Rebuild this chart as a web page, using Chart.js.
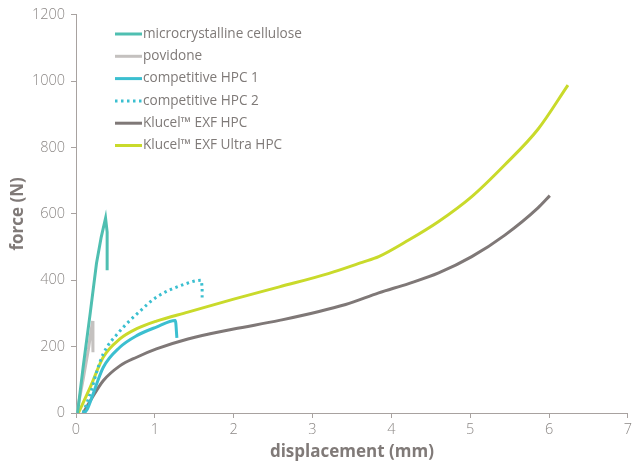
<!DOCTYPE html>
<html>
<head>
<meta charset="utf-8">
<script src="https://cdn.jsdelivr.net/npm/chart.js@4.4.1/dist/chart.umd.min.js"></script>
<style>
    html, body { margin: 0; padding: 0; background: #fff; }
    #wrap { width: 635px; height: 468px; }
</style>
</head>
<body>
<div id="wrap"><canvas id="forceChart" width="635" height="468"></canvas></div>
<script>
const seriesNames = [
    'microcrystalline cellulose',
    'povidone',
    'competitive HPC 1',
    'competitive HPC 2',
    'Klucel\u2122 EXF HPC',
    'Klucel\u2122 EXF Ultra HPC'
];

const mccX = [0.02, 0.09, 0.18, 0.26, 0.32, 0.375, 0.395, 0.395];
const mccY = [0, 137, 300, 451, 530, 587, 545, 430];

const povidoneX = [0.01, 0.09, 0.156, 0.21, 0.215, 0.215];
const povidoneY = [0, 100, 190, 277, 240, 183];

const hpc1X = [0.11, 0.15, 0.2, 0.345, 0.556, 0.77, 1.02, 1.26, 1.28];
const hpc1Y = [0, 15, 46, 137, 198, 233, 259, 279, 226];

const hpc2X = [0.09, 0.2, 0.26, 0.345, 0.535, 0.83, 1.02, 1.4, 1.59, 1.6, 1.6];
const hpc2Y = [0, 72, 122, 178, 241, 311, 349, 390, 400, 380, 346];

const exfX = [0.09, 0.18, 0.345, 0.556, 0.77, 1.02, 1.42, 2.0, 2.58, 3.42, 3.84, 4.22, 4.6, 5.02, 5.44, 5.86, 6.01];
const exfY = [0, 36, 97, 142, 168, 193, 223, 253, 279, 327, 362, 390, 422, 471, 536, 618, 655];

const ultraX = [0.03, 0.18, 0.345, 0.556, 0.77, 1.02, 1.42, 2.0, 2.58, 3.2, 3.63, 3.84, 4.22, 4.6, 5.02, 5.44, 5.86, 6.24];
const ultraY = [0, 77, 168, 223, 254, 277, 304, 343, 380, 420, 454, 471, 521, 577, 652, 748, 855, 988];

const xTicks = [0, 1, 2, 3, 4, 5, 6, 7];
const yTicks = [0, 200, 400, 600, 800, 1000, 1200];

const colors = ['#4fbfb1', '#c4c1bf', '#3bbfd0', '#3bbfd0', '#7f7877', '#c9da2b'];

const pts = (xs, ys) => xs.map((x, i) => ({ x: x, y: ys[i] }));

const allSeries = [
    pts(mccX, mccY),
    pts(povidoneX, povidoneY),
    pts(hpc1X, hpc1Y),
    pts(hpc2X, hpc2Y),
    pts(exfX, exfY),
    pts(ultraX, ultraY)
];

const smooth = [false, false, true, true, true, true];

const legendPlugin = {
    id: 'insideLegend',
    afterDraw(chart) {
        const ctx = chart.ctx;
        ctx.save();
        ctx.font = '13.6px "Open Sans", sans-serif';
        ctx.textBaseline = 'middle';
        chart.data.datasets.forEach((ds, i) => {
            const y = 34 + i * 22.3;
            ctx.strokeStyle = ds.borderColor;
            ctx.lineWidth = 3;
            ctx.setLineDash(ds.borderDash || []);
            ctx.beginPath();
            ctx.moveTo(115, y);
            ctx.lineTo(142, y);
            ctx.stroke();
            ctx.setLineDash([]);
            ctx.fillStyle = '#7f7a78';
            ctx.fillText(ds.label, 143, y);
        });
        ctx.restore();
    }
};

const tickFont = { family: '"Open Sans", sans-serif', size: 14.5, weight: 300 };
const titleFont = { family: '"Open Sans", sans-serif', size: 17, weight: 'bold' };

const ctx = document.getElementById('forceChart');
new Chart(ctx, {
    type: 'scatter',
    data: {
        datasets: allSeries.map((data, i) => ({
            label: seriesNames[i],
            data: data,
            showLine: true,
            borderColor: colors[i],
            backgroundColor: colors[i],
            borderWidth: 3,
            borderDash: i === 3 ? [2.5, 3.5] : [],
            pointRadius: 0,
            tension: smooth[i] ? 0.4 : 0,
            cubicInterpolationMode: smooth[i] ? 'monotone' : 'default',
            fill: false
        }))
    },
    options: {
        responsive: false,
        animation: false,
        layout: { padding: { top: 12, right: 2, left: 4, bottom: 2 } },
        plugins: {
            legend: { display: false },
            tooltip: { enabled: false }
        },
        scales: {
            x: {
                type: 'linear',
                min: 0,
                max: 7,
                afterBuildTicks: (scale) => { scale.ticks = xTicks.map(v => ({ value: v })); },
                afterFit: (scale) => { scale.height = 53; },
                ticks: { color: '#8c8886', font: tickFont, padding: 3, callback: (v) => String(v) },
                grid: { drawOnChartArea: false, drawTicks: true, tickLength: 5, color: '#a8a2a0' },
                border: { color: '#a8a2a0', width: 1 },
                title: {
                    display: true,
                    text: 'displacement (mm)',
                    color: '#807a78',
                    font: titleFont,
                    padding: { top: 0 }
                }
            },
            y: {
                min: 0,
                max: 1200,
                afterBuildTicks: (scale) => { scale.ticks = yTicks.map(v => ({ value: v })); },
                afterFit: (scale) => { scale.width = 72; },
                ticks: { color: '#8c8886', font: tickFont, padding: 6, callback: (v) => String(v) },
                grid: { drawOnChartArea: false, drawTicks: true, tickLength: 5, color: '#a8a2a0' },
                border: { color: '#a8a2a0', width: 1 },
                title: {
                    display: true,
                    text: 'force (N)',
                    color: '#807a78',
                    font: titleFont,
                    padding: { bottom: 0 }
                }
            }
        }
    },
    plugins: [legendPlugin]
});
</script>
</body>
</html>
